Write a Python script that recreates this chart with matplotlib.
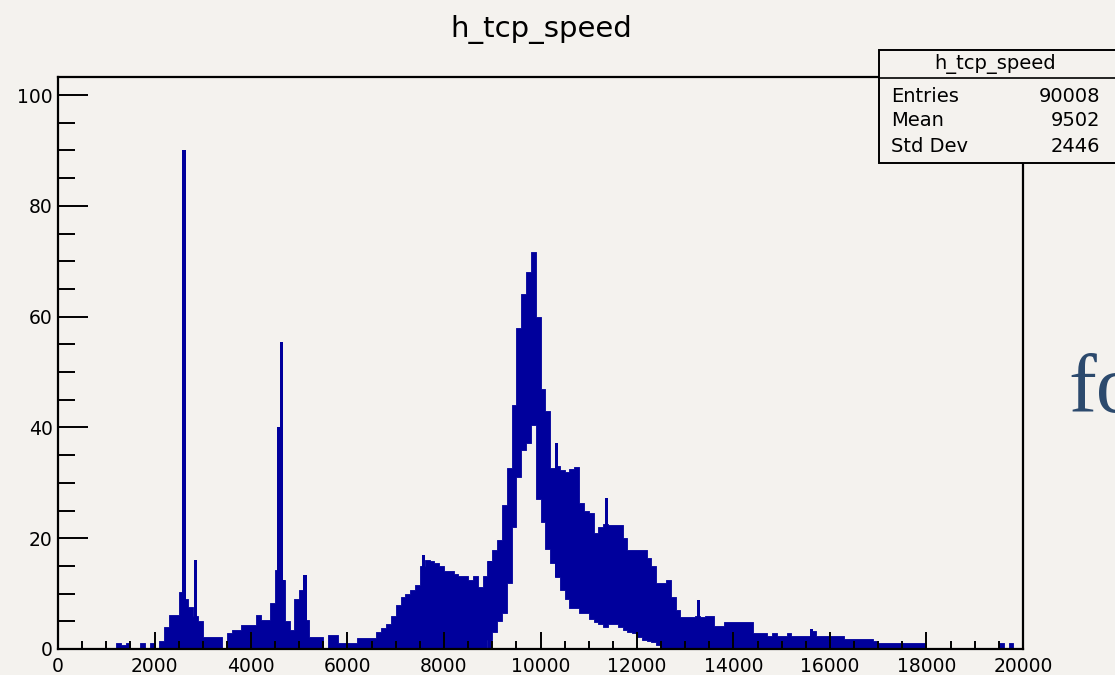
import numpy as np
import matplotlib
matplotlib.use("Agg")
import matplotlib.pyplot as plt
from matplotlib.patches import Rectangle
from matplotlib.lines import Line2D
from matplotlib.ticker import MultipleLocator

# histogram, 100-unit bins from 0 to 20000
# the fine bins alternate high/low, so keep the top and bottom of the band
bin_width = 100
upper = [
    0, 0, 0, 0, 0, 0, 0, 0, 0, 0,
    0, 0, 1.0, 0.8, 1.0, 0, 0, 1.0, 0, 1.0,
    0, 1.5, 4.0, 6.1, 6.1, 10.3, 9.0, 7.5, 6.0, 5.0,
    2.2, 2.2, 2.2, 2.2, 0, 2.8, 3.4, 3.4, 4.3, 4.3,
    4.3, 6.1, 5.2, 5.2, 8.3, 14.3, 12.5, 5.0, 3.4, 9.0,
    10.6, 5.2, 2.2, 2.2, 2.2, 0, 2.5, 2.5, 1.1, 1.1,
    1.1, 1.1, 2.0, 2.0, 2.0, 2.0, 3.1, 3.8, 4.6, 6.0,
    8.0, 9.4, 10.0, 10.6, 11.5, 15.0, 16.0, 15.8, 15.5, 15.0,
    14.0, 14.0, 13.5, 13.1, 13.1, 12.5, 13.1, 11.2, 13.1, 15.8,
    17.9, 19.7, 26.0, 32.6, 44.0, 58.0, 64.0, 68.0, 71.7, 60.0,
    47.0, 43.0, 32.6, 33.0, 32.3, 32.0, 32.5, 32.9, 26.3, 25.0,
    24.5, 21.0, 22.0, 22.5, 22.4, 22.4, 22.4, 20.0, 17.9, 17.9,
    17.9, 17.9, 16.5, 14.9, 12.0, 12.0, 12.5, 9.4, 7.0, 5.8,
    5.8, 5.8, 6.0, 5.8, 6.0, 6.0, 4.1, 4.1, 4.9, 4.9,
    4.9, 4.9, 4.9, 4.9, 2.9, 2.9, 2.9, 2.4, 2.9, 2.4,
    2.4, 2.9, 2.4, 2.4, 2.4, 2.4, 3.2, 2.4, 2.4, 2.4,
    2.4, 2.4, 2.4, 1.8, 1.8, 1.8, 1.8, 1.8, 1.8, 1.5,
    1.1, 1.1, 1.1, 1.1, 1.1, 1.1, 1.1, 1.1, 1.1, 1.0,
    0, 0, 0, 0, 0, 0, 0, 0, 0, 0,
    0, 0, 0, 0, 0, 1.1, 0, 1.1, 0, 0,
]
lower = [
    0, 0, 0, 0, 0, 0, 0, 0, 0, 0,
    0, 0, 0, 0, 0, 0, 0, 0, 0, 0,
    0, 0, 0, 0, 0, 0, 0, 0, 0, 0,
    0, 0, 0, 0, 0, 0, 0, 0, 0, 0,
    0, 0, 0, 0, 0, 0, 0, 0, 0, 0,
    0, 0, 0, 0, 0, 0, 0, 0, 0, 0,
    0, 0, 0, 0, 0, 0, 0, 0, 0, 0,
    0, 0, 0, 0, 0, 0, 0, 0, 0, 0,
    0, 0, 0, 0, 0, 0, 0, 0, 0, 1.6,
    3.0, 5.0, 6.5, 12.0, 22.0, 31.0, 35.9, 37.1, 40.4, 27.0,
    23.0, 18.0, 15.5, 13.0, 10.6, 9.0, 7.4, 7.4, 6.5, 6.5,
    5.5, 4.8, 4.5, 4.0, 4.5, 4.5, 4.0, 3.5, 3.0, 2.9,
    2.2, 1.7, 1.5, 1.2, 0.8, 0, 0, 0, 0, 0,
    0, 0, 0, 0, 0, 0, 0, 0, 0, 0,
    0, 0, 0, 0, 0, 0, 0, 0, 0, 0,
    0, 0, 0, 0, 0, 0, 0, 0, 0, 0,
    0, 0, 0, 0, 0, 0, 0, 0, 0, 0,
    0, 0, 0, 0, 0, 0, 0, 0, 0, 0,
    0, 0, 0, 0, 0, 0, 0, 0, 0, 0,
    0, 0, 0, 0, 0, 0, 0, 0, 0, 0,
]

# narrow single-bin spikes (top and bottom of each)
spike_x = [2610, 2850, 4570, 4630, 4680, 5120, 7570, 8950, 10335, 11370, 13270, 15620]
spike_h = [90.0, 16.1, 40.0, 55.5, 12.5, 13.4, 17.0, 15.8, 37.1, 27.2, 8.8, 3.6]
spike_lo = [0, 0, 0, 0, 0, 0, 0, 0, 13.0, 4.0, 0, 0]

x_ticks = [0, 2000, 4000, 6000, 8000, 10000, 12000, 14000, 16000, 18000, 20000]
y_ticks = [0, 20, 40, 60, 80, 100]

stat_names = ["Entries", "Mean", "Std Dev"]
stat_values = ["90008", "9502", "2446"]

bg = "#f4f2ee"
blue = "#00009c"
W, H = 1115, 675

# step outline: each bin value held until the next edge
edges = np.arange(0, bin_width * (len(upper) + 1), bin_width)
up = np.append(upper, upper[-1])
lo = np.append(lower, lower[-1])

fig = plt.figure(figsize=(W / 100, H / 100), dpi=100, facecolor=bg)
ax = fig.add_axes([58 / W, 1 - 649 / H, 965 / W, 572 / H])
ax.set_facecolor(bg)

ax.fill_between(edges, lo, up, step="post", color=blue, lw=0.6, edgecolor=blue)
ax.bar(spike_x, np.array(spike_h) - np.array(spike_lo), bottom=spike_lo, width=70,
       color=blue, lw=0)

ax.set_xlim(0, 20000)
ax.set_ylim(0, 103.25)
ax.set_xticks(x_ticks)
ax.set_xticklabels([str(v) for v in x_ticks])
ax.set_yticks(y_ticks)
ax.set_yticklabels([str(v) for v in y_ticks])
ax.xaxis.set_minor_locator(MultipleLocator(500))
ax.yaxis.set_minor_locator(MultipleLocator(5))
ax.tick_params(axis="x", which="major", direction="in", length=12, width=1.4,
               pad=6, labelsize=13.5, top=False)
ax.tick_params(axis="x", which="minor", direction="in", length=6, width=1.4, top=False)
ax.tick_params(axis="y", which="major", direction="in", length=21.6, width=1.4,
               pad=4, labelsize=13.5, right=False)
ax.tick_params(axis="y", which="minor", direction="in", length=12, width=1.4, right=False)
for s in ax.spines.values():
    s.set_linewidth(1.6)

fig.text(541 / W, 1 - 30 / H, "h_tcp_speed", ha="center", va="center", fontsize=21)

# stats box, top right
box = Rectangle((879 / W, 1 - 163 / H), (1120 - 879) / W, (163 - 50) / H,
                transform=fig.transFigure, facecolor=bg, edgecolor="black",
                lw=1.4, zorder=5)
fig.add_artist(box)
fig.add_artist(Line2D([879 / W, 1.0], [1 - 78 / H] * 2, transform=fig.transFigure,
                      color="black", lw=1.2, zorder=6))
fig.text(995 / W, 1 - 64 / H, "h_tcp_speed", ha="center", va="center",
         fontsize=14, zorder=7)
for i, (name, val) in enumerate(zip(stat_names, stat_values)):
    yy = 1 - (96 + 25 * i) / H
    fig.text(891 / W, yy, name, ha="left", va="center", fontsize=14, zorder=7)
    fig.text(1100 / W, yy, val, ha="right", va="center", fontsize=14, zorder=7)

# slide text peeking in from the right edge
fig.text(1068 / W, 1 - 412 / H, "fo", fontsize=60, color="#2c4a6d",
         family="Liberation Serif", va="baseline", ha="left")

fig.savefig("out.png", dpi=100, facecolor=bg)
